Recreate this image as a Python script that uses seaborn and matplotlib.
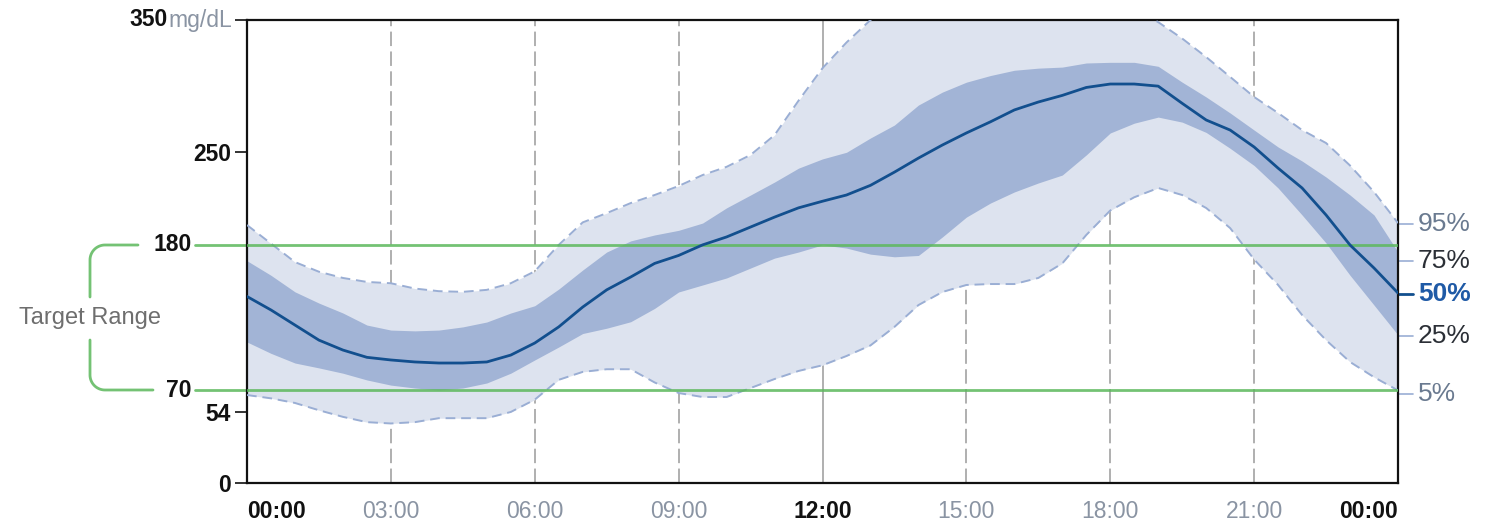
import numpy as np
import pandas as pd
import seaborn as sns
import matplotlib.pyplot as plt

# ---- data (mg/dL, every half hour from 00:00 to 24:00) ----
hours = [i / 2 for i in range(49)]
p5 = [66.5, 64, 60.5, 55, 50, 46, 45, 46, 49, 49, 49, 53.7, 63, 78, 84, 86, 86, 76, 68, 65, 65, 71.8, 78.6, 84.7,
      89, 96, 104, 118, 134.5, 144.4, 149.7, 150.4, 150.4, 155, 166, 187.5, 206, 216, 223, 217.7, 207.9, 192.7,
      169, 149.7, 127, 108, 91.5, 80, 70]
p25 = [106.6, 98, 90.7, 87, 83, 77.9, 74, 71.8, 70.3, 71.8, 75.6, 83, 93, 102.8, 113, 117, 121.9, 132, 144.4,
       149.7, 155, 162.5, 170, 174.6, 180, 177.6, 173, 171, 172, 186, 201, 211.6, 220, 226.8, 232.8, 248, 264.6,
       272, 276.6, 272.8, 265, 253, 240, 223, 202.6, 181.4, 157, 134.5, 111.9]
p50 = [141, 130.8, 119.4, 108, 100.5, 95, 93, 91.5, 90.7, 90.7, 91.5, 96.7, 105.8, 118, 133, 146, 155.7, 166,
       172, 180, 186, 193.5, 201, 208, 213, 217.7, 225, 235, 245.6, 255.5, 264.6, 273, 282, 288, 293, 299, 301.6,
       301.6, 300, 287, 274.4, 266.8, 254, 238, 223, 202.6, 179.9, 162.5, 143.6]
p75 = [168, 157, 144.5, 136, 128.5, 119.4, 115.6, 115, 115.6, 118, 121.7, 128.5, 134, 146.6, 161, 174.6, 183,
       187.5, 191, 196.5, 208, 217.7, 227.5, 238, 245, 250, 260.8, 270.6, 285.7, 295.5, 303, 308, 312, 313.6,
       314.4, 317.5, 318, 318, 315, 303, 291.8, 279.7, 266.8, 254, 243.4, 231.3, 217.7, 202.6, 174.6]
p95 = [195, 181, 167, 159.7, 155, 152, 151, 147, 145, 144.5, 146, 151, 160, 180, 197, 204, 211.6, 217.7, 224.5,
       232.8, 239, 248, 263, 289, 313.6, 333, 350, 362, 372, 380, 386, 389, 390, 389, 385, 378, 368, 358, 348.4,
       336, 322, 307, 291.8, 279.7, 266.8, 257, 240, 220, 196.5]

x_ticks = [0, 3, 6, 9, 12, 15, 18, 21, 24]
x_labels = ["00:00", "03:00", "06:00", "09:00", "12:00", "15:00", "18:00", "21:00", "00:00"]
x_bold = [True, False, False, False, True, False, False, False, True]
y_ticks = [0, 54, 250, 350]
y_labels = ["0", "54", "250", ""]
target_low, target_high = 70, 180
pct_names = ["95%", "75%", "50%", "25%", "5%"]

df = pd.DataFrame({"hour": hours, "p5": p5, "p25": p25, "p50": p50, "p75": p75, "p95": p95})

# ---- styling ----
W, H = 1490, 524
sns.set_style("white")
plt.rcParams["font.family"] = ["Liberation Sans", "DejaVu Sans"]

LIGHT = "#dde3ef"
DARK = "#a2b4d6"
EDGE = "#9aaed4"
MED = "#124f8e"
GREEN = "#5cb85c"
GREY_TXT = "#8a94a3"

fig = plt.figure(figsize=(W / 100, H / 100), dpi=100)
ax = fig.add_axes([247 / W, 1 - 483 / H, (1398 - 247) / W, (483 - 20) / H])

def px(x, y):
    return x / W, 1 - y / H

# vertical hour grid
for h in x_ticks[1:-1]:
    if h == 12:
        ax.axvline(h, color="#a9a9a9", lw=1.3, zorder=0)
    else:
        ax.axvline(h, color="#a9a9a9", lw=1.3, ls=(0, (8, 3)), zorder=0)

# percentile bands
ax.fill_between(df["hour"], df["p5"], df["p95"], color=LIGHT, lw=0, zorder=1)
ax.fill_between(df["hour"], df["p25"], df["p75"], color=DARK, lw=0, zorder=2)
ax.plot(df["hour"], df["p95"], color=EDGE, lw=1.4, ls=(0, (5, 3)), zorder=3)
ax.plot(df["hour"], df["p5"], color=EDGE, lw=1.4, ls=(0, (5, 3)), zorder=3)

# target range lines
for v in (target_low, target_high):
    ax.axhline(v, color=GREEN, lw=2, alpha=0.85, zorder=4)
    ax.plot([-52 / 1151, 0], [v, v], color=GREEN, lw=2, alpha=0.85,
            transform=ax.get_yaxis_transform(), clip_on=False)

# median
sns.lineplot(data=df, x="hour", y="p50", ax=ax, color=MED, lw=2, zorder=5)

ax.set_xlim(0, 24)
ax.set_ylim(0, 350)
ax.set_xlabel("")
ax.set_ylabel("")

for s in ax.spines.values():
    s.set_color("#111111")
    s.set_linewidth(1.6)

ax.set_xticks(x_ticks)
ax.set_xticklabels(x_labels, fontsize=16.5)
ax.tick_params(axis="x", length=0, pad=12)
xl = ax.get_xticklabels()
for lab, b in zip(xl, x_bold):
    lab.set_fontweight("bold" if b else "normal")
    lab.set_color("#111111" if b else GREY_TXT)
xl[0].set_horizontalalignment("left")
xl[-1].set_horizontalalignment("right")

ax.set_yticks(y_ticks)
ax.set_yticklabels(y_labels, fontsize=16.5, fontweight="bold", color="#111111")
ax.tick_params(axis="y", left=True, length=8.6, width=1.2, color="#111111", pad=3)

# 350 mg/dL label
ytr = ax.get_yaxis_transform()
mgdl = ax.annotate("mg/dL", xy=(0, 350), xycoords=ytr, xytext=(-11, 0),
                   textcoords="offset points", ha="right", va="center",
                   fontsize=16.5, color=GREY_TXT)
ax.annotate("350", xy=(0, 0.5), xycoords=mgdl, ha="right", va="center",
            fontsize=16.5, fontweight="bold", color="#111111")

# target labels
for v in (target_low, target_high):
    ax.annotate(str(v), xy=(0, v), xycoords=ytr, xytext=(-39.6, 0),
                textcoords="offset points", ha="right", va="center",
                fontsize=16.5, fontweight="bold", color="#111111")

# bracket for target range
t = np.linspace(0, np.pi / 2, 20)
top = [(138, 245)] + [(105 - 15 * np.cos(a), 260 - 15 * np.sin(a)) for a in t[::-1]] + [(90, 297)]
bot = [(90, 340)] + [(105 - 15 * np.cos(a), 375 + 15 * np.sin(a)) for a in t] + [(153, 390)]
for seg in (top, bot):
    fx, fy = zip(*[px(x, y) for x, y in seg])
    fig.add_artist(plt.Line2D(fx, fy, color=GREEN, lw=2, alpha=0.85, transform=fig.transFigure))
fig.text(*px(90, 318), "Target Range", ha="center", va="center", fontsize=17, color="#6e6e6e")

# percentile labels on the right
label_y = [196, 168, 143, 111, 67]
label_col = ["#6a7a90", "#2b2f36", "#1f5aa6", "#2b2f36", "#6a7a90"]
for name, yv, col in zip(pct_names, label_y, label_col):
    is_med = name == "50%"
    ax.plot([1, 1 + 15 / 1151], [yv, yv], transform=ytr, clip_on=False,
            color=MED if is_med else EDGE, lw=2 if is_med else 1.2)
    ax.text(1 + 20 / 1151, yv, name, transform=ytr, ha="left", va="center",
            fontsize=19, color=col, fontweight="bold" if is_med else "normal")

fig.savefig("out.png", dpi=100)
